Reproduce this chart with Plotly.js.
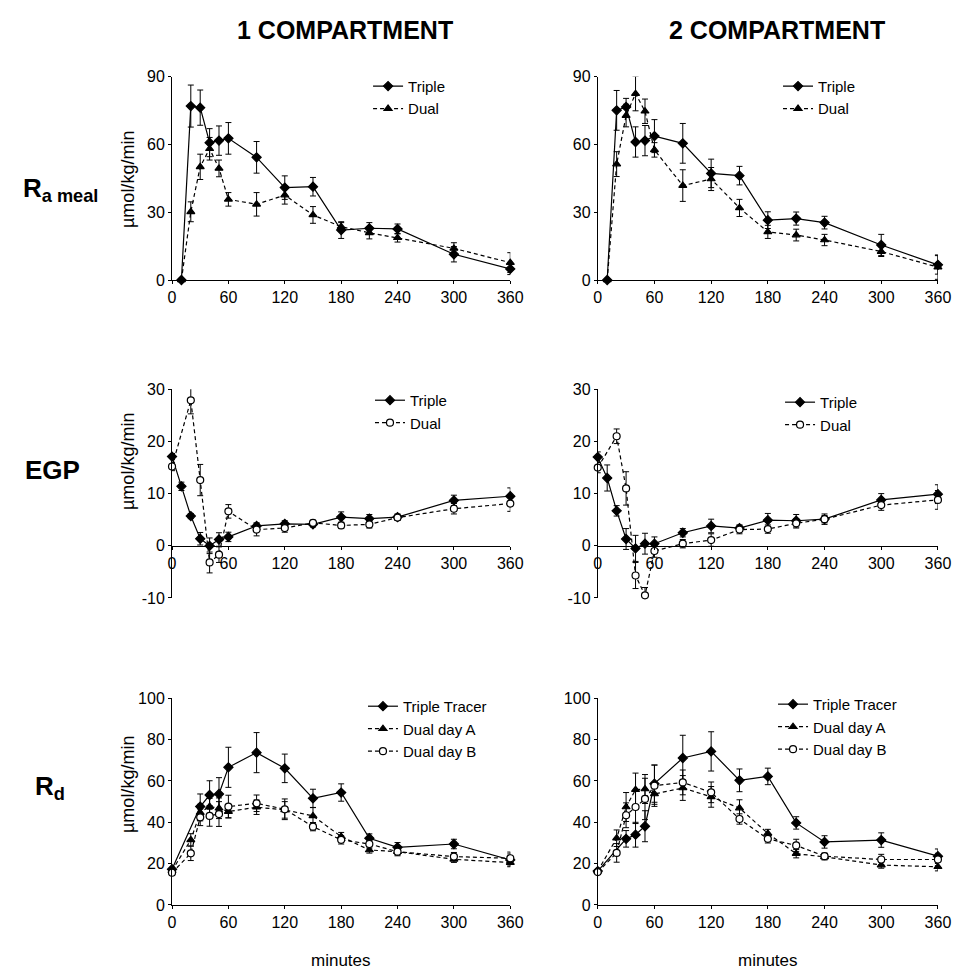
<!DOCTYPE html>
<html>
<head>
<meta charset="utf-8">
<script src="https://cdn.plot.ly/plotly-3.0.1.min.js"></script>
<style>html,body{margin:0;padding:0;background:#fff;}#chart{width:961px;height:977px;}</style>
</head>
<body>
<div id="chart"></div>
<script>
// ---------- data ----------
var tRa = [10,20,30,40,50,60,90,120,150,180,210,240,300,360];
var ra1Triple = [0,77,76.3,60.8,61.7,62.7,54.3,40.9,41.3,22.1,22.9,22.6,11.4,4.9];
var ra1TripleErr = [0,9.3,7.8,6.2,6.5,7,7,5.2,4.1,3.7,2.5,2.2,3.4,2.5];
var ra1Dual = [0,30.2,50.1,58.1,49.4,35.7,33.5,37.6,28.8,23.6,20.9,18.7,14,7.7];
var ra1DualErr = [0,4.4,5.6,5,3.7,3,5.2,4,3.7,1.8,2.7,1.9,2.5,4.4];
var ra2Triple = [0,75.1,76.6,61.1,61.7,63.7,60.5,47.2,46.2,26.5,27.2,25.4,15.5,6.7];
var ra2TripleErr = [0,8.8,3.8,6.7,6.7,7.3,8.8,6.3,4.1,3.7,2.9,2.8,4.7,4.1];
var ra2Dual = [0,51.3,72.8,82.5,74.7,57.6,41.8,44.7,31.9,21.3,19.9,17.7,12.6,5.7];
var ra2DualErr = [0,5.5,5,7.6,5.4,3.2,7,5.1,3.8,2.9,2.6,2.5,2.2,5.4];

var tEgpTriple = [0,10,20,30,40,50,60,90,120,150,180,210,240,300,360];
var tEgpDual = [0,20,30,40,50,60,90,120,150,180,210,240,300,360];
var egp1Triple = [17.1,11.4,5.7,1.35,0,1.2,1.7,3.8,4.2,4.1,5.5,5.2,5.5,8.7,9.5];
var egp1TripleErr = [0.6,0.8,0.5,1.2,1.5,1.3,0.9,0.6,0.6,0.5,1,0.8,0.6,1,1.6];
var egp1Dual = [15.2,27.9,12.6,-3.2,-1.7,6.6,3.1,3.4,4.4,3.9,4.1,5.4,7.1,8.1];
var egp1DualErr = [0.8,2.6,3,2,1.5,1.3,1.2,0.8,0.5,0.6,0.7,0.5,1,1.5];
var egp2Triple = [17,13,6.7,1.3,-0.5,0.4,0.4,2.5,3.8,3.4,4.9,4.8,5.1,8.8,9.9];
var egp2TripleErr = [1,2.5,1,2,2.5,2,1.3,0.8,1.3,0.6,1.3,1.2,1,1.2,1.8];
var egp2Dual = [15,21,11,-5.7,-9.5,-1,0.4,1.1,3.1,3.2,4.3,5.1,7.8,8.8];
var egp2DualErr = [1,1.4,3.2,2.5,1.5,1.2,0.8,1.2,0.8,0.8,0.9,0.7,1,1.8];

var tRdTriple = [0,30,40,50,60,90,120,150,180,210,240,300,360];
var tRdDual = [0,20,30,40,50,60,90,120,150,180,210,240,300,360];
var rd1Triple = [17.3,47.6,53.2,53.7,66.6,73.7,66.1,51.6,54.4,32.3,27.9,29.5,21.8];
var rd1TripleErr = [1,6.1,6.9,7.9,9.7,9.7,6.9,4.4,4.2,2.1,2.3,2.3,2.9];
var rd1DualA = [16.6,31.5,44.7,47.6,46.8,45.2,47.3,46,43.1,33.1,26.6,25.8,22.1,20.5];
var rd1DualAErr = [1,3,4,4,5,3,3.5,4,4,2,1.5,1.5,1.5,2];
var rd1DualB = [15.6,25,42.4,43.1,44,47.6,49.2,46.3,37.9,31.5,29.5,25.8,23.4,22.6];
var rd1DualBErr = [1,3.5,4,5,6,5.5,4,5,2,2,2,2,2,3];
var rd2Triple = [16.4,32,34,38.1,58.7,71.1,74.3,60.3,62.2,39.7,30.5,31.4,23.6];
var rd2TripleErr = [1,4,6,7.5,9,11,9.5,5.5,4,3,3,3.5,3.5];
var rd2DualA = [16.4,32.3,47.4,55.8,56.1,53.7,56.6,52.3,46.9,34.6,24.8,23.3,19.3,18.5];
var rd2DualAErr = [1,4,7,8,7,5,6,5,4,2,2,1.5,1.5,2];
var rd2DualB = [15.9,25.2,43.4,47.4,51.3,57.7,59.3,54.5,41.6,32,28.8,23.6,22,22];
var rd2DualBErr = [1,4.5,6,8,10,10,6,5,2.5,2,3,1.5,2.5,3];

var xTicks = [0,60,120,180,240,300,360];
var colTitles = ['1 COMPARTMENT','2 COMPARTMENT'];
var yUnit = 'µmol/kg/min';
var xUnit = 'minutes';

// ---------- styles ----------
var FONT = 'Arial, "Liberation Sans", Helvetica, sans-serif';
var styles = {
  triple: {dash:'solid', symbol:'diamond', size:7, fill:'black'},
  dualTri: {dash:'4px,3px', symbol:'triangle-up', size:7, fill:'black'},
  dualCirc: {dash:'4px,3px', symbol:'circle', size:7, fill:'white'}
};
function tr(name, x, y, err, st, ax, leg){
  return {
    type:'scatter', mode:'lines+markers', name:name, x:x, y:y,
    xaxis:'x'+ax, yaxis:'y'+ax, legend:leg, cliponaxis:false,
    line:{color:'black', width:1.2, dash:st.dash},
    marker:{symbol:st.symbol, size:st.size, color:st.fill, line:{color:'black', width:1.2}},
    error_y:{type:'data', array:err, visible:true, color:'black', thickness:1, width:3}
  };
}
var data = [
  tr('Triple', tRa, ra1Triple, ra1TripleErr, styles.triple, '', 'legend'),
  tr('Dual', tRa, ra1Dual, ra1DualErr, styles.dualTri, '', 'legend'),
  tr('Triple', tRa, ra2Triple, ra2TripleErr, styles.triple, '2', 'legend2'),
  tr('Dual', tRa, ra2Dual, ra2DualErr, styles.dualTri, '2', 'legend2'),
  tr('Triple', tEgpTriple, egp1Triple, egp1TripleErr, styles.triple, '3', 'legend3'),
  tr('Dual', tEgpDual, egp1Dual, egp1DualErr, styles.dualCirc, '3', 'legend3'),
  tr('Triple', tEgpTriple, egp2Triple, egp2TripleErr, styles.triple, '4', 'legend4'),
  tr('Dual', tEgpDual, egp2Dual, egp2DualErr, styles.dualCirc, '4', 'legend4'),
  tr('Triple Tracer', tRdTriple, rd1Triple, rd1TripleErr, styles.triple, '5', 'legend5'),
  tr('Dual day A', tRdDual, rd1DualA, rd1DualAErr, styles.dualTri, '5', 'legend5'),
  tr('Dual day B', tRdDual, rd1DualB, rd1DualBErr, styles.dualCirc, '5', 'legend5'),
  tr('Triple Tracer', tRdTriple, rd2Triple, rd2TripleErr, styles.triple, '6', 'legend6'),
  tr('Dual day A', tRdDual, rd2DualA, rd2DualAErr, styles.dualTri, '6', 'legend6'),
  tr('Dual day B', tRdDual, rd2DualB, rd2DualBErr, styles.dualCirc, '6', 'legend6')
];

// ---------- layout ----------
var colDom = [[0.179,0.531],[0.622,0.976]];
var rowDom = [[0.7134,0.9215],[0.388,0.6015],[0.0737,0.2853]];
var yRanges = [[0,90],[-10,30],[0,100]];
var yTicks = [[0,30,60,90],[-10,0,10,20,30],[0,20,40,60,80,100]];
var tickFont = {family:FONT, size:16, color:'black'};

var layout = {
  width:961, height:977, showlegend:true,
  margin:{l:0,r:0,t:0,b:0},
  paper_bgcolor:'white', plot_bgcolor:'rgba(0,0,0,0)',
  font:{family:FONT, color:'black'},
  annotations:[]
};
for (var r=0;r<3;r++){
  for (var c=0;c<2;c++){
    var i = r*2+c+1;
    var sx = i===1?'':String(i);
    var xa = {
      domain:colDom[c], range:[0,360], tickvals:xTicks, ticktext:xTicks.map(String),
      showline:true, linecolor:'black', linewidth:1, showgrid:false, zeroline:false,
      ticks:'outside', ticklen:3, tickcolor:'black', tickfont:tickFont,
      anchor:'y'+sx, fixedrange:true
    };
    if (r===1){
      var d = rowDom[1];
      xa.anchor = 'free';
      xa.position = d[0] + (0 - yRanges[1][0])/(yRanges[1][1]-yRanges[1][0])*(d[1]-d[0]);
    }
    layout['xaxis'+sx] = xa;
    layout['yaxis'+sx] = {
      domain:rowDom[r], range:yRanges[r], tickvals:yTicks[r], ticktext:yTicks[r].map(String),
      showline:true, linecolor:'black', linewidth:1, showgrid:false, zeroline:false,
      ticks:'outside', ticklen:3, tickcolor:'black', tickfont:tickFont,
      anchor:'x'+sx, fixedrange:true
    };
  }
}
// legends
var legPos = [[0.383,0.9285],[0.8096,0.9285],[0.385,0.607],[0.8117,0.605],[0.3777,0.2938],[0.8044,0.2959]];
legPos.forEach(function(p,k){
  var key = k===0?'legend':'legend'+(k+1);
  layout[key] = {x:p[0], y:p[1], xanchor:'left', yanchor:'top', bgcolor:'rgba(0,0,0,0)',
    borderwidth:0, font:{family:FONT,size:15,color:'black'}, itemwidth:30, tracegroupgap:0};
});
// titles and labels
layout.annotations.push(
  {text:'<b>'+colTitles[0]+'</b>', x:345/961, y:1-30/977, xref:'paper', yref:'paper', showarrow:false, font:{size:25,family:FONT}, xanchor:'center', yanchor:'middle'},
  {text:'<b>'+colTitles[1]+'</b>', x:777/961, y:1-30/977, xref:'paper', yref:'paper', showarrow:false, font:{size:25,family:FONT}, xanchor:'center', yanchor:'middle'},
  {text:'<b>R<sub>a meal</sub></b>', x:60/961, y:1-190/977, xref:'paper', yref:'paper', showarrow:false, font:{size:26,family:FONT}, xanchor:'center', yanchor:'middle'},
  {text:'<b>EGP</b>', x:52/961, y:1-470/977, xref:'paper', yref:'paper', showarrow:false, font:{size:26,family:FONT}, xanchor:'center', yanchor:'middle'},
  {text:'<b>R<sub>d</sub></b>', x:50/961, y:1-787/977, xref:'paper', yref:'paper', showarrow:false, font:{size:26,family:FONT}, xanchor:'center', yanchor:'middle'},
  {text:yUnit, x:128/961, y:1-180/977, xref:'paper', yref:'paper', showarrow:false, textangle:-90, font:{size:18,family:FONT}, xanchor:'center', yanchor:'middle'},
  {text:yUnit, x:128/961, y:1-462/977, xref:'paper', yref:'paper', showarrow:false, textangle:-90, font:{size:18,family:FONT}, xanchor:'center', yanchor:'middle'},
  {text:yUnit, x:128/961, y:1-785/977, xref:'paper', yref:'paper', showarrow:false, textangle:-90, font:{size:18,family:FONT}, xanchor:'center', yanchor:'middle'},
  {text:xUnit, x:341/961, y:1-960/977, xref:'paper', yref:'paper', showarrow:false, font:{size:17,family:FONT}, xanchor:'center', yanchor:'middle'},
  {text:xUnit, x:768/961, y:1-960/977, xref:'paper', yref:'paper', showarrow:false, font:{size:17,family:FONT}, xanchor:'center', yanchor:'middle'}
);
Plotly.newPlot('chart', data, layout, {displayModeBar:false, staticPlot:true});
</script>
</body>
</html>
